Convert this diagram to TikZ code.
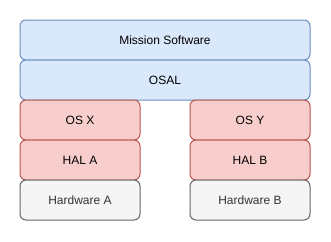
\documentclass[tikz,border=0pt]{standalone}
\usepackage{fontspec}
\setmainfont{Liberation Sans}
\usetikzlibrary{positioning}
\definecolor{swfill}{HTML}{DAE8FC}
\definecolor{swline}{HTML}{6C8EBF}
\definecolor{osfill}{HTML}{F8CECC}
\definecolor{osline}{HTML}{B85450}
\definecolor{hwfill}{HTML}{F5F5F5}
\definecolor{hwline}{HTML}{666666}
\definecolor{hwtext}{HTML}{333333}

\tikzset{
  layer/.style={rounded corners=6pt, line width=1pt, minimum height=40pt,
    inner sep=0pt, outer sep=0pt, font=\fontsize{12}{14}\selectfont},
  swlayer/.style={layer, draw=swline, fill=swfill, minimum width=290pt},
  oslayer/.style={layer, draw=osline, fill=osfill, minimum width=120pt},
  hwlayer/.style={layer, draw=hwline, fill=hwfill, text=hwtext, minimum width=120pt}
}

\begin{document}
\begin{tikzpicture}[x=1pt, y=-1pt]
\useasboundingbox (0,0) rectangle (331,241);

% shared software stack
\node[swlayer] (mission) at (165,40) {Mission Software};
\node[swlayer, below=0pt of mission] (osal) {OSAL};

% left platform
\node[oslayer, below right=0pt and 0pt of osal.south west] (osx) {OS X};
\node[oslayer, below=0pt of osx] (hala) {HAL A};
\node[hwlayer, below=0pt of hala] (hwa) {Hardware A};

% right platform
\node[oslayer, below left=0pt and 0pt of osal.south east] (osy) {OS Y};
\node[oslayer, below=0pt of osy] (halb) {HAL B};
\node[hwlayer, below=0pt of halb] (hwb) {Hardware B};
\end{tikzpicture}
\end{document}
